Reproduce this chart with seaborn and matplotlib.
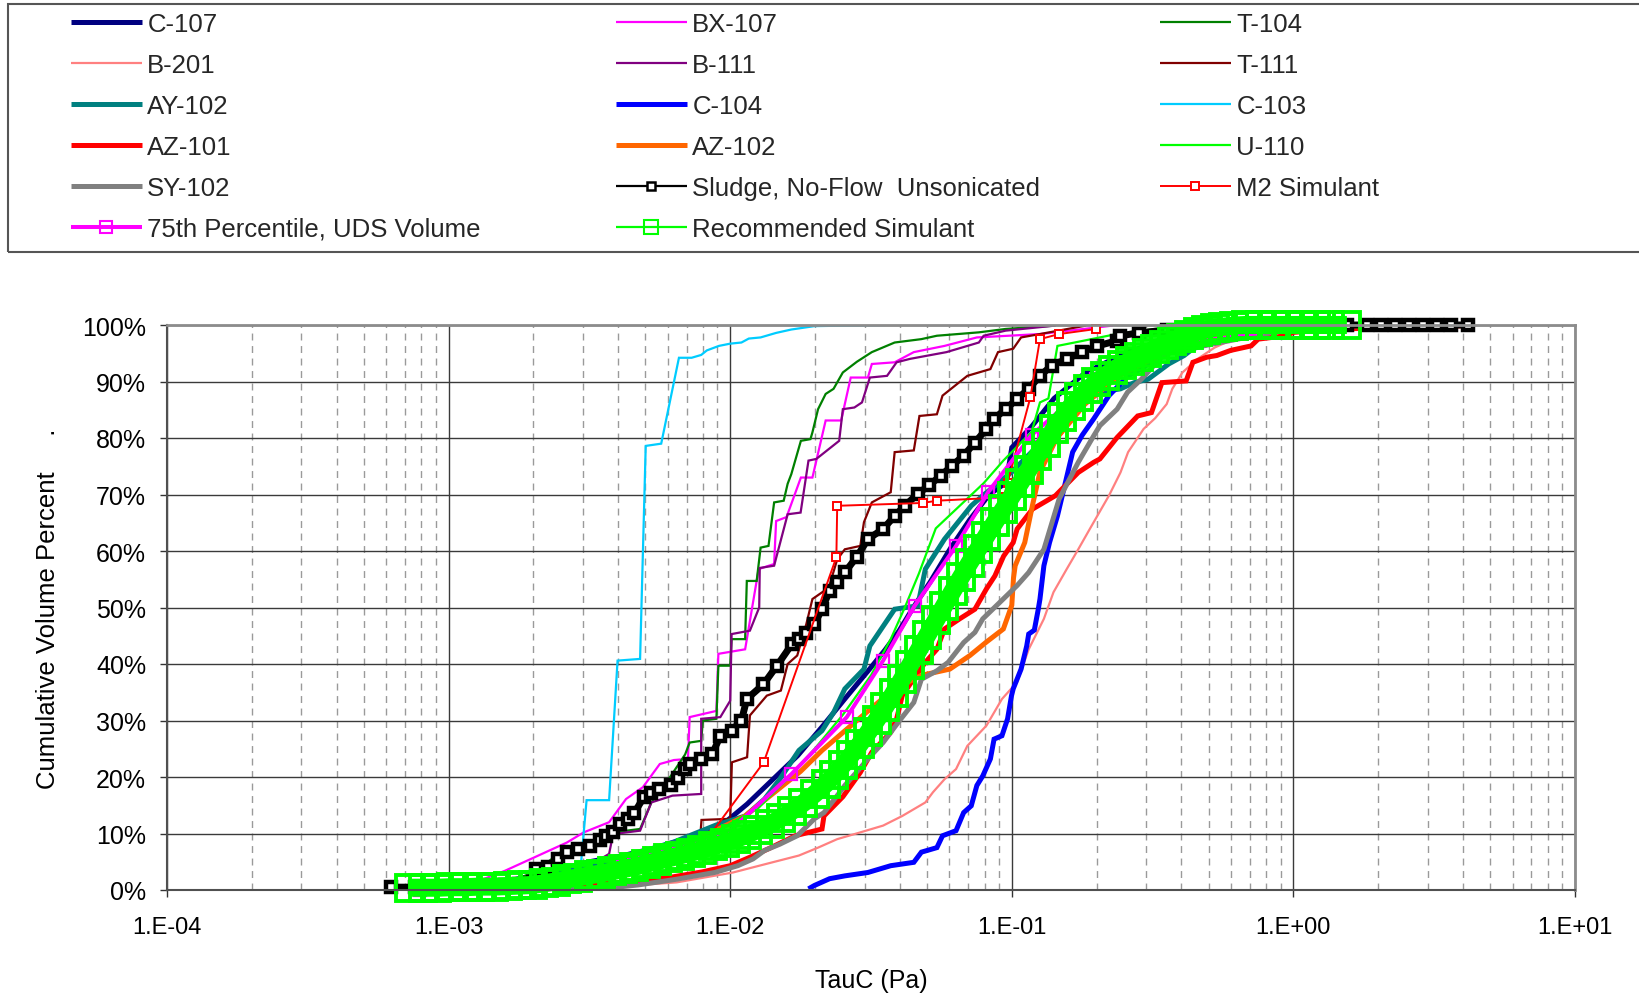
import numpy as np
import pandas as pd
import matplotlib
matplotlib.use("Agg")
import matplotlib.pyplot as plt
import seaborn as sns
from matplotlib.lines import Line2D
from matplotlib.patches import Rectangle
from matplotlib.ticker import FixedLocator, FuncFormatter, NullFormatter

# ---------------- data ----------------
# x values are log10(TauC / Pa), y values are cumulative volume percent
C107_LOGTAU = [-3.05, -2.85, -2.65, -2.50, -2.38, -2.26, -2.10, -2.01, -1.94, -1.85, -1.76, -1.67, -1.59, -1.51, -1.45,
               -1.40, -1.35, -1.29, -1.22, -1.15, -1.08, -1.02, -1.00, -0.93, -0.85, -0.74, -0.60, -0.42, -0.20, 0.00]
C107_PCT = [0.0, 1.0, 3.0, 5.0, 6.1, 7.5, 10.0, 12.3, 15.2, 19.5, 23.8, 29.1, 34.0, 38.8, 42.5,
            45.9, 50.0, 54.5, 60.3, 65.5, 70.0, 72.1, 78.3, 82.0, 87.0, 91.5, 95.0, 98.0, 99.7, 100.0]

BX107_LOGTAU = [-2.95, -2.80, -2.58, -2.52, -2.43, -2.37, -2.31, -2.25, -2.20, -2.15, -2.144, -2.049, -2.042, -1.947,
                -1.899, -1.844, -1.837, -1.800, -1.749, -1.708, -1.661, -1.606, -1.572, -1.511, -1.497, -1.416,
                -1.348, -1.239, -1.124, -0.899, -0.641]
BX107_PCT = [0.5, 3.4, 8.4, 10.2, 12.0, 16.1, 18.2, 22.3, 23.0, 23.2, 30.6, 31.7, 41.8, 42.6,
             56.8, 57.7, 65.3, 66.0, 73.0, 73.0, 83.1, 83.1, 90.7, 90.7, 93.1, 93.4,
             95.2, 96.3, 97.8, 98.4, 99.9]

T104_LOGTAU = [-2.85, -2.70, -2.58, -2.50, -2.416, -2.32, -2.28, -2.24, -2.20, -2.16, -2.144, -2.103, -2.097, -2.049,
               -2.042, -2.000, -1.995, -1.947, -1.941, -1.906, -1.892, -1.864, -1.844, -1.810, -1.796, -1.783,
               -1.749, -1.715, -1.708, -1.688, -1.661, -1.633, -1.600, -1.550, -1.497, -1.416, -1.321, -1.266,
               -1.117, -1.022, -0.845]
T104_PCT = [0.5, 3.0, 7.5, 8.5, 10.2, 10.8, 15.5, 18.0, 21.0, 24.0, 26.1, 26.4, 30.0, 30.3,
            39.7, 39.7, 44.4, 44.4, 54.7, 54.7, 60.6, 60.9, 68.6, 68.9, 71.9, 73.6,
            79.5, 79.8, 81.0, 85.1, 87.8, 88.7, 91.6, 93.5, 95.2, 96.9, 97.5, 98.1,
            98.7, 99.3, 99.9]

B201_LOGTAU = [-2.95, -2.60, -2.35, -2.19, -1.99, -1.85, -1.756, -1.688, -1.620, -1.538, -1.457, -1.389, -1.307,
               -1.280, -1.239, -1.198, -1.158, -1.090, -1.035, -0.981, -0.940, -0.886, -0.852, -0.805, -0.764,
               -0.723, -0.655, -0.614, -0.587, -0.532, -0.491, -0.450, -0.430, -0.394, -0.340, -0.280, -0.200,
               -0.100, 0.000]
B201_PCT = [0.0, 0.3, 0.8, 1.35, 3.1, 4.9, 6.1, 7.5, 9.0, 10.2, 11.4, 13.1, 15.5,
            17.3, 19.6, 21.4, 25.5, 29.1, 33.8, 36.8, 42.6, 48.0, 52.7, 56.8, 60.3,
            63.9, 69.8, 73.9, 77.5, 81.6, 83.5, 86.0, 88.7, 91.6, 94.0, 96.0, 97.8,
            99.2, 100.0]

B111_LOGTAU = [-2.75, -2.55, -2.52, -2.43, -2.416, -2.32, -2.28, -2.205, -2.103, -2.103, -2.035, -2.000, -1.995,
               -1.930, -1.897, -1.895, -1.844, -1.796, -1.750, -1.722, -1.694, -1.613, -1.600, -1.559, -1.532,
               -1.504, -1.443, -1.409, -1.362, -1.232, -1.117, -1.100, -1.022, -0.845]
B111_PCT = [0.3, 2.0, 3.7, 6.4, 9.9, 10.5, 15.5, 16.7, 17.0, 30.3, 30.6, 33.5, 45.3,
            45.9, 50.0, 57.0, 57.4, 66.5, 66.8, 76.0, 76.3, 79.5, 85.1, 85.4, 86.3,
            90.7, 91.0, 93.4, 94.0, 95.2, 96.9, 98.1, 99.0, 99.9]

T111_LOGTAU = [-2.75, -2.55, -2.35, -2.20, -2.106, -2.102, -2.000, -1.994, -1.940, -1.930, -1.870, -1.820, -1.796,
               -1.762, -1.730, -1.708, -1.650, -1.620, -1.593, -1.538, -1.525, -1.497, -1.430, -1.416, -1.348,
               -1.328, -1.266, -1.246, -1.158, -1.076, -1.049, -0.995, -0.967, -0.900, -0.736]
T111_PCT = [0.5, 3.0, 5.5, 8.0, 9.6, 12.4, 12.6, 22.6, 23.5, 30.9, 34.4, 35.3, 40.0,
            41.5, 47.0, 51.5, 53.5, 58.5, 60.3, 60.9, 65.1, 68.6, 70.4, 77.5, 77.8,
            83.9, 84.2, 87.5, 91.0, 92.2, 95.2, 95.8, 97.8, 98.4, 99.9]

AY102_LOGTAU = [-3.00, -2.70, -2.40, -2.20, -2.05, -1.946, -1.878, -1.824, -1.756, -1.674, -1.633, -1.593, -1.525,
                -1.504, -1.416, -1.334, -1.307, -1.239, -1.144, -1.103, -1.000, -0.920, -0.850, -0.770, -0.687,
                -0.614, -0.565, -0.516, -0.443, -0.388, -0.357, -0.284, -0.198, -0.150, -0.040, 0.045, 0.200]
AY102_PCT = [0.3, 2.0, 5.5, 8.5, 11.5, 13.1, 16.1, 19.6, 24.7, 28.2, 31.4, 35.6, 39.1,
             43.2, 49.7, 50.3, 56.8, 62.1, 68.0, 69.8, 74.0, 78.0, 82.0, 85.5, 88.1,
             88.7, 89.8, 90.4, 93.1, 94.6, 95.8, 96.9, 97.8, 98.1, 99.0, 99.6, 100.0]

C104_LOGTAU = [-1.722, -1.701, -1.647, -1.593, -1.511, -1.430, -1.348, -1.321, -1.266, -1.246, -1.198, -1.171,
               -1.144, -1.124, -1.103, -1.076, -1.063, -1.035, -1.015, -1.001, -0.995, -0.967, -0.947, -0.940,
               -0.920, -0.906, -0.900, -0.886, -0.866, -0.838, -0.804, -0.784, -0.750, -0.709, -0.655, -0.587,
               -0.532, -0.470, -0.400, -0.250, 0.000]
C104_PCT = [0.2, 0.8, 2.0, 2.5, 3.1, 4.3, 4.9, 6.7, 7.5, 9.6, 10.5, 13.7,
            14.9, 18.5, 20.2, 23.2, 26.7, 27.3, 30.3, 34.4, 35.6, 39.1, 43.2, 45.3,
            46.0, 49.7, 51.5, 57.4, 61.5, 66.2, 73.3, 77.5, 80.5, 83.4, 87.5, 91.0,
            92.5, 95.0, 97.0, 99.0, 100.0]

C103_LOGTAU = [-2.75, -2.66, -2.53, -2.51, -2.43, -2.40, -2.32, -2.30, -2.245, -2.182, -2.137, -2.103, -2.083,
               -2.040, -2.000, -1.960, -1.934, -1.892, -1.837, -1.783, -1.701, -1.450]
C103_PCT = [0.0, 4.3, 4.6, 15.9, 15.9, 40.6, 40.9, 78.6, 79.0, 94.2, 94.2, 94.7, 95.5,
            96.3, 96.7, 96.9, 97.6, 97.8, 98.6, 99.2, 99.8, 100.0]

AZ101_LOGTAU = [-2.90, -2.60, -2.40, -2.218, -2.10, -2.00, -1.93, -1.864, -1.769, -1.674, -1.667, -1.600, -1.538,
                -1.497, -1.430, -1.409, -1.389, -1.340, -1.307, -1.266, -1.239, -1.185, -1.131, -1.090, -1.060,
                -1.029, -0.995, -0.981, -0.927, -0.845, -0.764, -0.709, -0.687, -0.626, -0.553, -0.504, -0.467,
                -0.381, -0.357, -0.308, -0.272, -0.223, -0.150, -0.125, -0.027, 0.000, 0.168, 0.632]
AZ101_PCT = [0.0, 0.6, 1.3, 2.2, 3.2, 4.3, 5.8, 7.3, 9.6, 10.8, 13.1, 16.5, 20.8,
             24.4, 27.9, 30.3, 34.4, 38.0, 40.3, 42.6, 46.2, 48.0, 49.7, 53.3, 55.6,
             59.1, 61.5, 63.9, 67.4, 69.8, 73.9, 75.7, 76.3, 80.1, 83.9, 84.5, 89.8,
             90.1, 93.4, 94.3, 94.6, 95.5, 96.3, 97.5, 98.1, 98.7, 99.3, 99.9]

AZ102_LOGTAU = [-2.90, -2.50, -2.20, -1.95, -1.75, -1.674, -1.55, -1.42, -1.32, -1.220, -1.149, -1.090, -1.030,
                -1.000, -0.994, -0.988, -0.954, -0.927, -0.900, -0.840, -0.740, -0.620, -0.500, -0.300, 0.000]
AZ102_PCT = [0.5, 3.0, 7.0, 13.0, 21.0, 24.7, 30.0, 35.5, 38.0, 39.1, 41.5, 43.9, 46.2,
             50.4, 55.2, 57.4, 61.5, 68.0, 74.0, 80.0, 86.0, 91.0, 94.0, 97.5, 100.0]

U110_LOGTAU = [-3.05, -2.70, -2.40, -2.10, -1.90, -1.80, -1.70, -1.60, -1.50, -1.43, -1.38, -1.33, -1.27,
               -1.185, -1.10, -1.03, -0.967, -0.930, -0.900, -0.870, -0.838, -0.777, -0.628, -0.492, -0.300]
U110_PCT = [0.0, 1.5, 4.5, 9.0, 14.5, 19.5, 25.0, 31.0, 38.0, 44.4, 50.0, 56.0, 64.0,
            68.0, 72.0, 76.0, 79.2, 81.0, 86.3, 87.0, 96.3, 96.9, 98.4, 99.3, 100.0]

SY102_LOGTAU = [-2.70, -2.462, -2.326, -2.191, -2.055, -1.973, -1.919, -1.878, -1.824, -1.762, -1.701, -1.667,
                -1.620, -1.593, -1.552, -1.511, -1.457, -1.403, -1.348, -1.321, -1.266, -1.226, -1.171, -1.131,
                -1.103, -1.049, -0.981, -0.940, -0.886, -0.832, -0.764, -0.709, -0.687, -0.626, -0.589, -0.540,
                -0.479, -0.455, -0.320, -0.198, -0.076, 0.100, 0.300]
SY102_PCT = [0.0, 0.2, 0.9, 1.9, 3.1, 4.3, 5.5, 7.0, 8.1, 9.6, 12.6, 13.7,
             16.7, 18.5, 20.8, 23.2, 26.1, 29.7, 33.2, 37.3, 38.8, 40.3, 43.8, 45.6,
             48.0, 50.6, 53.9, 56.2, 60.3, 69.2, 75.7, 80.4, 82.2, 85.1, 88.1, 90.4,
             93.7, 94.9, 96.3, 97.5, 98.7, 99.6, 100.0]

SLUDGE_LOGTAU = [-3.204, -3.120, -3.050, -2.980, -2.920, -2.860, -2.800, -2.750, -2.701, -2.688,
                 -2.647, -2.610, -2.579, -2.540, -2.497, -2.463, -2.440, -2.416, -2.390, -2.362,
                 -2.340, -2.307, -2.280, -2.253, -2.212, -2.185, -2.160, -2.144, -2.103, -2.063,
                 -2.035, -1.995, -1.960, -1.941, -1.882, -1.834, -1.781, -1.756, -1.730, -1.701,
                 -1.674, -1.647, -1.620, -1.593, -1.550, -1.511, -1.457, -1.416, -1.380, -1.334,
                 -1.294, -1.253, -1.212, -1.171, -1.131, -1.090, -1.063, -1.022, -0.981, -0.940,
                 -0.900, -0.859, -0.804, -0.750, -0.696, -0.628, -0.614, -0.550, -0.450, -0.350,
                 -0.200, -0.050, 0.080, 0.190, 0.260, 0.310, 0.360, 0.410, 0.460, 0.510,
                 0.560, 0.619]
SLUDGE_PCT = [0.5, 0.5, 0.5, 0.5, 0.6, 0.7, 0.9, 1.1, 1.4, 3.7,
              4.1, 5.5, 6.7, 7.3, 7.8, 8.8, 9.6, 10.2, 11.6, 12.6,
              13.7, 16.4, 17.2, 17.9, 18.5, 19.9, 21.4, 22.3, 23.2, 24.1,
              27.3, 28.2, 30.0, 33.8, 36.4, 39.7, 43.5, 44.4, 45.5, 47.1,
              49.7, 53.0, 54.5, 56.2, 59.0, 62.1, 63.9, 66.2, 68.0, 70.1,
              71.6, 73.3, 75.1, 76.9, 79.2, 81.6, 83.4, 85.1, 86.9, 88.7,
              91.0, 92.8, 94.0, 95.2, 96.3, 97.2, 98.1, 98.6, 99.1, 99.5,
              99.8, 100.0, 100.0, 100.0, 100.0, 100.0, 100.0, 100.0, 100.0, 100.0,
              100.0, 100.0]

M2_LOGTAU = [-2.09, -1.881, -1.623, -1.620, -1.317, -1.266, -1.029, -1.015, -0.934, -0.900, -0.832, -0.700]
M2_PCT = [8.5, 22.6, 58.9, 68.0, 68.5, 68.9, 69.5, 72.1, 87.2, 97.5, 98.4, 99.3]

P75_LOGTAU = [-3.10, -2.80, -2.50, -2.40, -2.20, -2.00, -1.783, -1.586, -1.457, -1.345, -1.199, -1.083,
              -0.930, -0.700, -0.350, 0.076]
P75_PCT = [0.0, 0.8, 2.5, 5.0, 7.5, 10.5, 20.5, 30.6, 40.6, 50.3, 60.8, 70.5,
           80.5, 90.5, 97.0, 100.0]

REC_LOGTAU = [-3.14, -3.09, -3.04, -2.99, -2.94, -2.89, -2.84, -2.79, -2.74, -2.70,
              -2.66, -2.62, -2.58, -2.54, -2.50, -2.46, -2.42, -2.38, -2.34, -2.30,
              -2.26, -2.22, -2.18, -2.14, -2.10, -2.06, -2.02, -1.98, -1.94, -1.90,
              -1.86, -1.82, -1.78, -1.74, -1.70, -1.66, -1.63, -1.60, -1.57, -1.54,
              -1.51, -1.48, -1.45, -1.42, -1.39, -1.36, -1.33, -1.30, -1.27, -1.24,
              -1.21, -1.18, -1.15, -1.12, -1.09, -1.06, -1.03, -1.00, -0.97, -0.94,
              -0.91, -0.88, -0.85, -0.82, -0.79, -0.76, -0.73, -0.70, -0.67, -0.64,
              -0.61, -0.58, -0.55, -0.52, -0.49, -0.46, -0.43, -0.40, -0.37, -0.34,
              -0.31, -0.28, -0.25, -0.21, -0.17, -0.12, -0.07, -0.02, 0.03, 0.08,
              0.13, 0.19]
REC_PCT = [0.4, 0.4, 0.4, 0.5, 0.5, 0.6, 0.6, 0.7, 0.8, 0.9,
           1.2, 1.5, 1.9, 2.2, 2.6, 2.9, 3.3, 3.7, 4.1, 4.6,
           5.1, 5.6, 6.1, 6.6, 7.1, 7.7, 8.3, 9.0, 9.8, 10.7,
           11.6, 12.7, 14.0, 15.4, 17.0, 18.8, 20.4, 22.1, 23.9, 25.8,
           27.9, 30.1, 32.4, 34.8, 37.3, 39.9, 42.5, 45.1, 47.7, 50.3,
           52.9, 55.4, 57.9, 60.3, 62.7, 65.1, 67.4, 69.7, 72.0, 74.4,
           76.8, 79.2, 81.6, 83.7, 85.6, 87.2, 88.6, 89.9, 91.0, 92.0,
           92.9, 93.7, 94.4, 95.1, 95.8, 96.5, 97.1, 97.7, 98.3, 98.8,
           99.2, 99.5, 99.7, 99.9, 100.0, 100.0, 100.0, 100.0, 100.0, 100.0,
           100.0, 100.0]

X_TICKS = [1e-4, 1e-3, 1e-2, 1e-1, 1e0, 1e1]
Y_TICKS = [0, 10, 20, 30, 40, 50, 60, 70, 80, 90, 100]

# ---------------- styles (plot order = Excel series order) ----------------
# lw: line width on the plot; llw: line width of the legend sample
THICK, THIN = 3.6, 1.6
SERIES = [
    ("C-107", C107_LOGTAU, C107_PCT, dict(color="#000080", lw=THICK)),
    ("BX-107", BX107_LOGTAU, BX107_PCT, dict(color="#FF00FF", lw=THIN)),
    ("T-104", T104_LOGTAU, T104_PCT, dict(color="#008000", lw=THIN)),
    ("B-201", B201_LOGTAU, B201_PCT, dict(color="#FF8080", lw=THIN)),
    ("B-111", B111_LOGTAU, B111_PCT, dict(color="#800080", lw=THIN)),
    ("T-111", T111_LOGTAU, T111_PCT, dict(color="#800000", lw=THIN)),
    ("AY-102", AY102_LOGTAU, AY102_PCT, dict(color="#008080", lw=THICK)),
    ("C-104", C104_LOGTAU, C104_PCT, dict(color="#0000FF", lw=THICK)),
    ("C-103", C103_LOGTAU, C103_PCT, dict(color="#00CCFF", lw=THIN)),
    ("AZ-101", AZ101_LOGTAU, AZ101_PCT, dict(color="#FF0000", lw=THICK)),
    ("AZ-102", AZ102_LOGTAU, AZ102_PCT, dict(color="#FF6600", lw=THICK)),
    ("U-110", U110_LOGTAU, U110_PCT, dict(color="#00FF00", lw=THIN)),
    ("SY-102", SY102_LOGTAU, SY102_PCT, dict(color="#808080", lw=THICK)),
    ("Sludge, No-Flow  Unsonicated", SLUDGE_LOGTAU, SLUDGE_PCT,
     dict(color="#000000", lw=5.0, llw=1.6, ms=7.0, mfc="white", mew=3.2, lms=5.2, lmew=1.8)),
    ("M2 Simulant", M2_LOGTAU, M2_PCT,
     dict(color="#FF0000", lw=1.4, ms=5.4, mfc="white", mew=1.4, lms=5.2, lmew=1.4)),
    ("75th Percentile, UDS Volume", P75_LOGTAU, P75_PCT,
     dict(color="#FF00FF", lw=2.9, ms=8.0, mfc="none", mew=1.6, lms=8.5, lmew=1.5)),
    ("Recommended Simulant", REC_LOGTAU, REC_PCT,
     dict(color="#00FF00", lw=13.0, llw=1.6, ms=19.0, mfc="none", mew=2.8, lms=9.5, lmew=1.5)),
]

# ---------------- figure ----------------
sns.set_theme(style="white")
plt.rcParams["font.family"] = ["Liberation Sans", "DejaVu Sans"]
plt.rcParams["lines.solid_capstyle"] = "butt"

W, H = 1639, 995
fig = plt.figure(figsize=(W / 100, H / 100), dpi=100)
fig.patch.set_facecolor("white")
ax = fig.add_axes([167 / W, 1 - 891 / H, (1575 - 167) / W, (891 - 326) / H])
ax.set_facecolor("white")

for name, lt, pc, st in SERIES:
    df = pd.DataFrame({"tau": np.power(10.0, np.asarray(lt)), "pct": pc})
    n_before = len(ax.lines)
    sns.lineplot(data=df, x="tau", y="pct", ax=ax, sort=False, estimator=None,
                 errorbar=None, legend=False, color=st["color"], linewidth=st["lw"])
    for line in ax.lines[n_before:]:
        line.set_solid_joinstyle("miter")
        if "ms" in st:
            line.set_marker("s")
            line.set_markersize(st["ms"])
            line.set_markerfacecolor(st["mfc"])
            line.set_markeredgecolor(st["color"])
            line.set_markeredgewidth(st["mew"])
            line.set_clip_on(False)

ax.set_xscale("log")
ax.set_xlim(1e-4, 1e1)
ax.set_ylim(0, 100)
ax.xaxis.set_major_locator(FixedLocator(X_TICKS))
ax.xaxis.set_major_formatter(FuncFormatter(lambda v, p: f"1.E{int(round(np.log10(v))):+03d}"))
ax.xaxis.set_minor_locator(FixedLocator([m * 10.0 ** e for e in range(-4, 1) for m in range(2, 10)]))
ax.xaxis.set_minor_formatter(NullFormatter())
ax.yaxis.set_major_locator(FixedLocator(Y_TICKS))
ax.yaxis.set_major_formatter(FuncFormatter(lambda v, p: f"{int(round(v))}%"))

ax.set_axisbelow(True)
ax.grid(which="major", axis="both", color="#3a3a3a", linewidth=1.0, linestyle="-")
ax.grid(which="minor", axis="x", color="#9a9a9a", linewidth=1.0, linestyle=(0, (5, 4)))

ax.tick_params(axis="x", which="major", bottom=True, direction="out", length=5, width=1.0,
               color="#333333", labelsize=17, pad=14, labelcolor="black")
ax.tick_params(axis="x", which="minor", bottom=False, length=0)
ax.tick_params(axis="y", which="major", left=True, direction="out", length=5, width=1.0,
               color="#333333", labelsize=18, pad=10, labelcolor="black")

for side in ["top", "right"]:
    ax.spines[side].set_color("#8c8c8c")
    ax.spines[side].set_linewidth(2.0)
for side in ["left", "bottom"]:
    ax.spines[side].set_color("#505050")
    ax.spines[side].set_linewidth(1.5)

ax.set_xlabel("TauC (Pa)", fontsize=18, labelpad=21, color="black")
ax.set_ylabel("Cumulative Volume Percent     .", fontsize=18.5, labelpad=16, color="black")

# ---------------- legend (three columns, Excel-style row order) ----------------
fig.patches.append(Rectangle((8 / W, 1 - 253 / H), 1.2, 248 / H, transform=fig.transFigure,
                             fill=False, edgecolor="#555555", linewidth=1.5, zorder=0))

style_by_name = {s[0]: s[3] for s in SERIES}


def make_handle(name):
    st = style_by_name[name]
    kw = dict(color=st["color"], linewidth=st.get("llw", st["lw"]), solid_capstyle="butt")
    if "ms" in st:
        kw.update(marker="s", markersize=st["lms"], markerfacecolor=st["mfc"],
                  markeredgecolor=st["color"], markeredgewidth=st["lmew"])
    return Line2D([], [], **kw)


names = [s[0] for s in SERIES]
columns = [names[0::3], names[1::3], names[2::3]]
col_x = [71, 616, 1160]
for cx, col in zip(col_x, columns):
    fig.legend([make_handle(n) for n in col], col, loc="upper left",
               bbox_to_anchor=(cx / W, 1 - 13 / H), bbox_transform=fig.transFigure,
               frameon=False, borderpad=0, borderaxespad=0, handlelength=2.75,
               handletextpad=0.22, labelspacing=0.66, fontsize=18.5, markerscale=1.0)

fig.savefig("out.png", dpi=100, facecolor="white")
